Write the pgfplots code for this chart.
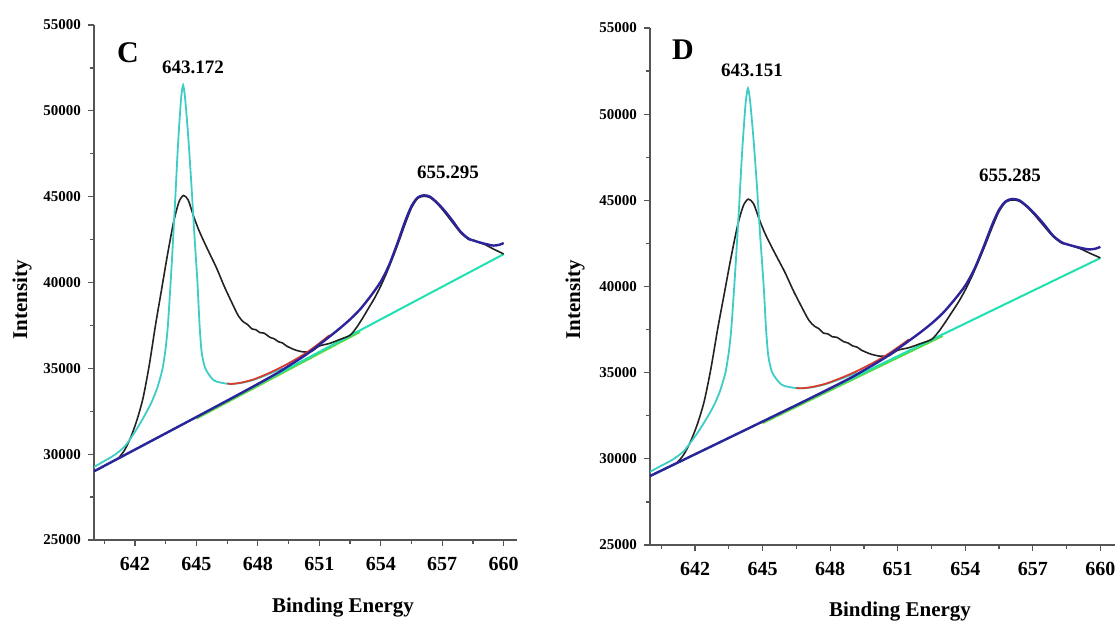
\documentclass[border=0pt]{standalone}
\usepackage{fontspec}
\setmainfont{Liberation Serif}
\usepackage{pgfplots}
\usepackage{pgfplotstable}
\pgfplotsset{compat=1.18}

\definecolor{axisgray}{RGB}{85,85,85}
\definecolor{fitcyan}{RGB}{62,205,198}
\definecolor{basecyan}{RGB}{30,225,175}
\definecolor{basegreen}{RGB}{90,215,60}
\definecolor{fitblue}{RGB}{45,35,155}
\definecolor{fitred}{RGB}{215,60,45}
\definecolor{rawblack}{RGB}{35,35,35}

% baseline (linear background)
\pgfplotstableread{
E I
640 29000
660 41650
}\baseline

\pgfplotstableread{
E I
645 32060
653 37120
}\basegreen

% fitted peak 1 (2p3/2)
\pgfplotstableread{
E I
640.0 29250
640.5 29600
641.0 29950
641.5 30450
642.0 31300
642.4 32100
642.8 33000
643.1 33900
643.35 35000
643.5 36200
643.6 37400
643.7 39200
643.8 41200
643.95 44500
644.1 48000
644.25 50700
644.35 51500
644.45 50700
644.6 48500
644.75 45800
644.9 42800
645.05 40000
645.15 37600
645.25 36000
645.4 35100
645.6 34650
645.8 34350
646.0 34220
646.4 34120
646.7 34090
647.2 34150
647.8 34330
648.5 34650
649.2 35010
}\peakone

% envelope between the peaks
\pgfplotstableread{
E I
646.5 34120
646.7 34090
647.2 34170
647.8 34360
648.5 34700
649.2 35100
650.0 35635
650.5 36020
651.0 36460
651.5 36930
}\envelope

% fitted peak 2 (2p1/2) on baseline
\pgfplotstableread{
E I
640 29000
642 30265
644 31530
646 32800
647 33440
648 34090
649 34760
649.5 35140
650 35515
650.5 35920
651 36380
651.5 36850
652 37330
652.5 37850
653 38450
653.5 39200
654 40050
654.4 41000
654.8 42250
655.2 43600
655.5 44450
655.8 44950
656.1 45080
656.4 45000
656.75 44650
657.1 44200
657.5 43600
657.9 42950
658.3 42550
658.7 42380
659.1 42250
659.5 42150
659.8 42200
660 42300
}\peaktwo

% measured spectrum
\pgfplotstableread{
E I
640.0 29000
641.0 29640
641.2 29780
641.5 30250
641.8 31000
642.1 32000
642.4 33300
642.7 35200
643.0 37500
643.3 39600
643.6 41700
643.9 43600
644.15 44700
644.37 45070
644.6 44800
644.85 43900
645.1 43100
645.4 42300
645.7 41550
646.0 40800
646.35 39800
646.7 38900
647.05 38050
647.3 37700
647.5 37550
647.7 37300
647.9 37250
648.1 37080
648.3 37050
648.6 36800
648.8 36720
649.0 36550
649.2 36480
649.4 36300
649.8 36080
650.2 35960
650.6 35980
651.0 36300
651.5 36450
652.0 36680
652.5 36930
652.8 37350
653.1 37900
653.4 38500
653.7 39100
654.0 39800
654.3 40600
654.6 41500
654.9 42450
655.2 43450
655.5 44350
655.8 44900
656.1 45020
656.4 44950
656.75 44600
657.1 44120
657.5 43500
657.9 42900
658.3 42500
658.5 42480
658.6 42420
658.8 42330
659.1 42200
659.5 41950
660.0 41660
}\spectrum

\pgfplotsset{xps/.style={
  scale only axis,
  xmin=640, xmax=660.65, ymin=25000, ymax=55000,
  axis x line*=bottom, axis y line*=left,
  xtick={642,645,...,660},
  minor xtick={640.5,643.5,...,658.5},
  ytick={25000,30000,...,55000},
  minor ytick={27500,32500,...,52500},
  tick align=outside,
  major tick length=3pt, minor tick length=2pt,
  scaled y ticks=false,
  /pgf/number format/assume math mode=true,
  /pgf/number format/1000 sep={},
  axis line style={draw=axisgray, line width=0.8pt},
  every tick/.style={axisgray, line width=0.6pt},
  xticklabel style={font=\bfseries\fontsize{10}{12}\selectfont, yshift=-2pt},
  yticklabel style={font=\bfseries\fontsize{7.5}{9}\selectfont},
}}

\newcommand{\drawcurves}{%
  \addplot[basegreen, line width=0.8pt] table[x=E,y=I] {\basegreen};
  \addplot[basecyan, line width=1pt] table[x=E,y=I] {\baseline};
  \addplot[rawblack, line width=0.8pt, smooth, tension=0.45] table[x=E,y=I] {\spectrum};
  \addplot[fitcyan, line width=0.9pt, smooth, tension=0.4] table[x=E,y=I] {\peakone};
  \addplot[fitred, line width=0.9pt, smooth, tension=0.5] table[x=E,y=I] {\envelope};
  \addplot[fitblue, line width=1.2pt, smooth, tension=0.45] table[x=E,y=I] {\peaktwo};
}

\begin{document}
\begin{tikzpicture}
\path[use as bounding box] (0pt,0pt) rectangle (559pt,312.5pt);

\begin{axis}[xps, at={(47pt,42.5pt)}, anchor=south west,
  width=211.5pt, height=257.5pt]
  \drawcurves
\end{axis}

\begin{axis}[xps, at={(325pt,40pt)}, anchor=south west,
  width=232.5pt, height=258.5pt]
  \drawcurves
\end{axis}

\node[font=\bfseries\fontsize{10.5}{12}\selectfont] at (171.5pt,8.5pt) {Binding Energy};
\node[font=\bfseries\fontsize{10.5}{12}\selectfont] at (450pt,6.5pt) {Binding Energy};
\node[font=\bfseries\fontsize{10.5}{12}\selectfont, rotate=90] at (11pt,162.5pt) {Intensity};
\node[font=\bfseries\fontsize{10.5}{12}\selectfont, rotate=90] at (287.5pt,162.5pt) {Intensity};

\node[font=\bfseries\fontsize{15}{17}\selectfont] at (64pt,286pt) {C};
\node[font=\bfseries\fontsize{15}{17}\selectfont] at (341.5pt,287.5pt) {D};
\node[font=\bfseries\fontsize{9.5}{11}\selectfont] at (96.5pt,279pt) {643.172};
\node[font=\bfseries\fontsize{9.5}{11}\selectfont] at (224pt,226.5pt) {655.295};
\node[font=\bfseries\fontsize{9.5}{11}\selectfont] at (376pt,277.5pt) {643.151};
\node[font=\bfseries\fontsize{9.5}{11}\selectfont] at (505pt,225pt) {655.285};
\end{tikzpicture}
\end{document}
